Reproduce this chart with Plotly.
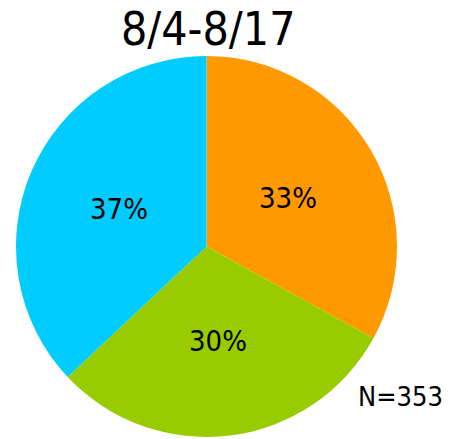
import math
import plotly.graph_objects as go

# Share of responses per group, period 8/4-8/17
labels = ["A", "B", "C"]
shares = [33, 30, 37]
colors = ["#FF9900", "#99CC00", "#00CCFF"]
title_text = "8/4-8/17"
n_text = "N=353"

W, H = 452, 439
text_font = "DejaVu Sans Condensed, Noto Sans CJK JP, sans-serif"

# pie placement in pixels (left, right, top, bottom)
px_l, px_r, px_t, px_b = 16, 397, 56, 437
dom_x = [px_l / W, px_r / W]
dom_y = [1 - px_b / H, 1 - px_t / H]

fig = go.Figure(
    go.Pie(
        labels=labels,
        values=shares,
        sort=False,
        direction="clockwise",
        rotation=0,
        marker=dict(colors=colors, line=dict(width=0)),
        textinfo="none",
        hoverinfo="skip",
        showlegend=False,
        domain=dict(x=dom_x, y=dom_y),
    )
)

# percentage labels at half radius on each slice's mid angle
cx = (px_l + px_r) / 2
cy = (px_t + px_b) / 2
R = (px_r - px_l) / 2
total = sum(shares)
cum = 0
for v in shares:
    mid = (cum + v / 2) / total * 2 * math.pi
    cum += v
    x_px = cx + 0.5 * R * math.sin(mid)
    y_px = cy - 0.5 * R * math.cos(mid)
    fig.add_annotation(
        text=f"{round(v / total * 100)}%", x=x_px / W, y=1 - y_px / H,
        xref="paper", yref="paper", showarrow=False,
        font=dict(family=text_font, size=29, color="black"),
        xanchor="center", yanchor="middle",
    )

fig.add_annotation(
    text=title_text, x=208 / W, y=1 - 29 / H, xref="paper", yref="paper",
    showarrow=False, font=dict(family=text_font, size=46, color="black"),
    xanchor="center", yanchor="middle",
)
fig.add_annotation(
    text=n_text, x=400 / W, y=1 - 396 / H, xref="paper", yref="paper",
    showarrow=False, font=dict(family=text_font, size=27, color="black"),
    xanchor="center", yanchor="middle",
)

fig.update_layout(
    width=W, height=H,
    margin=dict(l=0, r=0, t=0, b=0),
    paper_bgcolor="white", plot_bgcolor="white",
)

fig.write_html("out.html")
